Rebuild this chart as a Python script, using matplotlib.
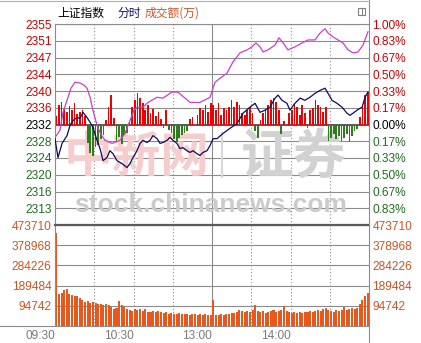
import matplotlib
matplotlib.use("Agg")
import matplotlib.pyplot as plt
from matplotlib.lines import Line2D
from matplotlib.patches import Rectangle

plt.rcParams["font.family"] = ["Liberation Sans", "Noto Sans CJK SC", "DejaVu Sans"]

# previous close of the index, the scales are +-1% around it
base = 2331.68
price_labels = ["2355", "2351", "2347", "2344", "2340", "2336", "2332",
                "2328", "2324", "2320", "2316", "2313"]
pct_labels = ["1.00%", "0.83%", "0.67%", "0.50%", "0.33%", "0.17%", "0.00%",
              "0.17%", "0.33%", "0.50%", "0.67%", "0.83%"]
vol_ticks = [94742, 189484, 284226, 378968, 473710]
time_ticks = [0, 60, 120, 180]
time_labels = ["09:30", "10:30", "13:00", "14:00"]

# index line, minutes of trading since 09:30 (lunch break removed)
idx_t = [0, 2.3, 5.4, 9.2, 11.5, 13.8, 16.8, 19.1, 21.4, 24.5, 26.8, 29, 32.1,
         34.4, 36.7, 39.7, 42, 44.3, 47.4, 51.2, 55, 57.3, 59.6, 62.7, 65, 67.3,
         70.3, 72.6, 74.9, 78, 80.3, 82.5, 85.6, 87.9, 90.2, 93.2, 95.5, 97.8,
         100.9, 103.2, 105.5, 108.5, 110.8, 113.1, 116.2, 118.5, 120.8, 123.8,
         128.4, 133.8, 139.1, 143.7, 149, 152.9, 156.7, 160.5, 164.3, 168.2,
         170.4, 173.5, 177.3, 179.6, 183.4, 187.3, 191.1, 194.9, 198.7, 202.6,
         206.4, 208.7, 211.7, 215.5, 219.4, 223.2, 225.5, 227.8, 230.8, 234.7,
         237, 239.2]
idx_p = [2328.4, 2324.0, 2327.3, 2329.1, 2331.5, 2332.6, 2333.3, 2333.1, 2334.5,
         2333.3, 2332.2, 2331.0, 2328.0, 2326.1, 2323.3, 2324.0, 2325.6, 2324.9,
         2323.3, 2322.6, 2321.7, 2322.6, 2324.0, 2325.6, 2327.3, 2328.0, 2327.5,
         2328.0, 2329.1, 2328.4, 2327.3, 2327.5, 2328.0, 2328.7, 2328.0, 2327.3,
         2326.1, 2326.3, 2325.6, 2325.2, 2325.6, 2324.9, 2324.5, 2325.2, 2325.6,
         2326.8, 2328.4, 2328.4, 2329.6, 2330.8, 2331.9, 2334.3, 2335.7, 2336.6,
         2334.5, 2335.0, 2335.7, 2337.8, 2338.5, 2337.3, 2336.6, 2335.0, 2336.6,
         2337.8, 2337.3, 2338.0, 2338.9, 2339.6, 2340.1, 2338.9, 2337.3, 2336.6,
         2335.7, 2334.3, 2333.8, 2334.3, 2335.0, 2335.7, 2338.0, 2339.2]

# second (magenta) line
avg_t = [0, 3.8, 6.1, 9.2, 12.2, 15.3, 19.1, 22.2, 24.5, 26.8, 29, 32.1, 34.4,
         38.2, 43.6, 49.7, 53.5, 57.3, 60.4, 62.7, 67.3, 71.1, 78, 82.5, 89.4,
         94, 99.4, 103.2, 110.8, 115.4, 118.5, 122.3, 126.1, 131.5, 136, 141.4,
         146.8, 150.6, 153.6, 156.7, 159, 162.8, 168.2, 171.2, 174.3, 178.1,
         183.4, 188.8, 193.4, 198.7, 202.6, 206.4, 208.7, 212.5, 216.3, 220.1,
         224, 227.8, 231.6, 235.4, 239.2]
avg_p = [2328.7, 2330.3, 2334.5, 2337.3, 2340.1, 2341.5, 2341.3, 2340.8, 2340.1,
         2338.0, 2335.0, 2331.5, 2329.8, 2328.0, 2327.3, 2328.0, 2329.6, 2332.6,
         2335.0, 2335.7, 2335.7, 2336.8, 2338.0, 2337.8, 2339.2, 2339.2, 2337.8,
         2336.8, 2336.8, 2337.5, 2338.0, 2341.5, 2342.4, 2343.6, 2346.2, 2348.3,
         2349.0, 2349.7, 2350.6, 2349.7, 2348.5, 2349.0, 2350.1, 2351.8, 2350.6,
         2349.0, 2349.7, 2350.6, 2351.3, 2351.3, 2352.9, 2353.9, 2352.9, 2352.0,
         2351.3, 2350.6, 2349.0, 2348.3, 2348.5, 2350.1, 2353.2]

# buy / sell strength bars, one per 2 minutes (100 = top of the panel)
power = [8, 19, 22, 15, 12, 18, 14, 21, 10, 12, 14, 8,
         -18, -28, -31, -22, -20, -14, -10,
         4, 17, 29, 6,
         -16, -12, -19, -10, -8,
         2, 17, 24, 31, 26, 21, 14, 19, 11, 15, 8, 12, 5,
         -3, 14,
         -5, -8, -14, -17, -13, -10, -8, -6,
         5, 7, 0, 9, 16, 14, 19, 12, 21, 19, 14, 21, 9, 16, 14, 17, 24, 17, 22,
         19, 11, 9, 14, 17, 11,
         -6, -13,
         4, 11, 14, 19, 24, 26, 22, 14,
         -9,
         3, 0, 11, 14, 20, 17, 9, 19, 11,
         -3,
         14, 16, 24, 19, 17, 12, 17,
         -16, -13, -9, -14, -11, -16, -13, -9, -17, -11, -6, -4,
         7, 17, 29, 32]

# turnover in 10k yuan, one bar per 2 minutes
volume = [435800, 151600, 156300, 170500, 175300, 151600, 146800, 142100, 142100, 132600,
          123200, 113700, 118400, 109000, 113700, 109000, 104200, 104200, 99500, 104200,
          99500, 90000, 80500, 85300, 118400, 99500, 90000, 80500, 75800, 71100,
          80500, 75800, 80500, 71100, 80500, 66300, 66300, 71100, 66300, 71100,
          66300, 61600, 66300, 56800, 61600, 56800, 56800, 61600, 56800, 56800,
          56800, 52100, 56800, 56800, 52100, 56800, 52100, 56800, 52100, 52100,
          123200, 52100, 52100, 56800, 52100, 56800, 56800, 61600, 61600, 66300,
          75800, 71100, 66300, 71100, 66300, 75800, 99500, 71100, 66300, 71100,
          61600, 66300, 71100, 75800, 66300, 71100, 75800, 94700, 71100, 66300,
          61600, 66300, 61600, 66300, 61600, 66300, 66300, 71100, 66300, 71100,
          75800, 71100, 80500, 85300, 75800, 71100, 66300, 75800, 71100, 75800,
          90000, 75800, 80500, 85300, 80500, 85300, 104200, 123200, 142100, 156300]

W, H = 421, 343


def fx(x):
    return x / W


def fy(y):
    return 1 - y / H


grid_col = "#8c8c8c"
dark_col = "#5a5a5a"
red_col = "#cc0000"
green_col = "#1e6e1e"
vol_col = "#cc5522"

fig = plt.figure(figsize=(W / 100, H / 100), dpi=100)
ax = fig.add_axes([fx(55), fy(225), fx(369) - fx(55), fy(24) - fy(225)])
axv = fig.add_axes([fx(55), fy(326), fx(369) - fx(55), fy(225) - fy(326)])

# ---- price panel
ax.set_xlim(0, 240)
ax.set_ylim(base * 0.99, base * 1.01)
levels = [base * (1 + k / 600) for k in range(6, -6, -1)]
ax.set_yticks(levels, price_labels)
ax.set_xticks([])
ax.tick_params(axis="y", length=0, pad=2.5, labelsize=8.6)
for i, lbl in enumerate(ax.get_yticklabels()):
    lbl.set_color(red_col if i < 6 else ("black" if i == 6 else green_col))
for lv in levels:
    ax.axhline(lv, color=grid_col, lw=0.8, zorder=0.5)
ax.axhline(base, color=dark_col, lw=1.4, zorder=0.6)

sec = ax.secondary_yaxis("right", functions=(lambda p: (p / base - 1) * 100,
                                             lambda q: base * (1 + q / 100)))
sec.set_yticks([k / 6 for k in range(6, -6, -1)], pct_labels)
sec.tick_params(length=0, pad=2.5, labelsize=8.6)
sec.spines["right"].set_visible(False)
for i, lbl in enumerate(sec.get_yticklabels()):
    lbl.set_color(red_col if i < 6 else ("black" if i == 6 else green_col))

bar_t = [2 * k + 1 for k in range(len(power))]
scale = base * 0.01 / 100
ax.bar(bar_t, [v * scale for v in power], bottom=base, width=1.3,
       color=["#ee0000" if v >= 0 else "#2f7d1a" for v in power], zorder=2)
ax.plot(avg_t, avg_p, color="#cc3fcc", lw=0.9, zorder=3)
ax.plot(idx_t, idx_p, color="#0c0c5c", lw=0.9, zorder=3)

# watermark
ax.text(fx(137), fy(157), "中新网", transform=fig.transFigure, ha="center", va="center",
        fontsize=35, fontweight="bold", color="#f7cccc", family=["Noto Sans CJK SC"], zorder=1)
ax.text(fx(294), fy(157), "证券", transform=fig.transFigure, ha="center", va="center",
        fontsize=38, fontweight="bold", color="#d2d2d2", family=["Noto Sans CJK SC"], zorder=1)
ax.add_line(Line2D([fx(222), fx(222)], [fy(133), fy(177)], transform=fig.transFigure,
                   color="#d8d8d8", lw=1.5, zorder=1))
ax.text(fx(210), fy(212), "stock.chinanews.com", transform=fig.transFigure, ha="center",
        va="baseline", fontsize=19, fontweight="bold", color="#cbcbcb", zorder=1)

# ---- volume panel
axv.set_xlim(0, 240)
axv.set_ylim(0, 473710)
axv.set_yticks(vol_ticks, [str(v) for v in vol_ticks])
axv.tick_params(axis="y", length=0, pad=2.5, labelsize=8.6, labelcolor=vol_col,
                labelright=True)
for v in vol_ticks:
    axv.axhline(v, color=grid_col, lw=0.8, zorder=0.5)
axv.bar([2 * k + 1 for k in range(len(volume))], volume, width=1.55, color="#e8571c", zorder=2)
axv.set_xticks(time_ticks, time_labels)
axv.tick_params(axis="x", length=0, pad=3, labelsize=8.6, labelcolor="#7a7a7a")
for lbl in axv.get_xticklabels():
    lbl.set_ha("right")

for a in (ax, axv):
    a.set_facecolor("none")
    for t in (30, 60, 90, 150, 180, 210):
        a.axvline(t, color=grid_col, lw=0.8, ls=(0, (1, 2)), zorder=0.5)
    a.axvline(120, color=grid_col, lw=0.8, zorder=0.5)
    a.spines["right"].set_visible(False)
    a.spines["left"].set_color(grid_col)
    a.spines["left"].set_linewidth(0.8)

ax.spines["top"].set_color(grid_col)
ax.spines["top"].set_linewidth(0.8)
ax.spines["bottom"].set_visible(False)
axv.spines["top"].set_color(dark_col)
axv.spines["top"].set_linewidth(1.6)
axv.spines["bottom"].set_visible(False)

# frame lines and header
fig.add_artist(Line2D([fx(369), fx(369)], [0, 1], color=grid_col, lw=0.8))
fig.add_artist(Line2D([0, fx(369)], [fy(326), fy(326)], color=grid_col, lw=0.8))
fig.add_artist(Line2D([0, fx(369)], [fy(1), fy(1)], color="#b0b0b0", lw=0.8))
fig.add_artist(Rectangle((fx(358), fy(15)), fx(7), 7 / H, fill=False,
                         edgecolor="#808080", lw=0.8))
fig.add_artist(Line2D([fx(362), fx(362)], [fy(15), fy(8)], color="#808080", lw=0.8))

hdr = ["Noto Sans CJK SC"]
fig.text(fx(57), fy(13), "上证指数", va="center", fontsize=8.5, color="black", family=hdr)
fig.text(fx(117), fy(13), "分时", va="center", fontsize=8.5, color="#101070", family=hdr)
fig.text(fx(145), fy(13), "成交额(万)", va="center", fontsize=8.5, color="#cc5522", family=hdr)

fig.savefig("out.png", dpi=100)
